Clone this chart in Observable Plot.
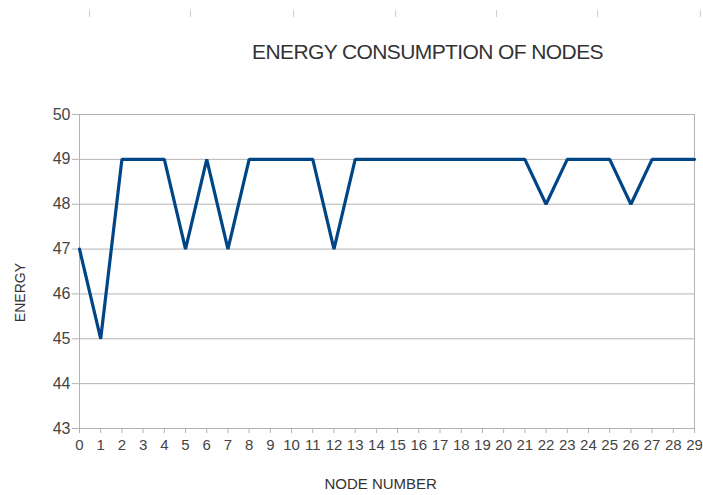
<!DOCTYPE html>
<html>
<head>
<meta charset="utf-8">
<script src="https://cdn.jsdelivr.net/npm/d3@7"></script>
<script src="https://cdn.jsdelivr.net/npm/@observablehq/plot@0.6"></script>
<style>
  html, body { margin: 0; padding: 0; background: #fff; }
  #wrap { position: relative; width: 703px; height: 495px; overflow: hidden; font-family: "Liberation Sans", Arial, sans-serif; }
  #title { position: absolute; left: 0; width: 703px; top: 40px; text-align: center; padding-left: 152px; box-sizing: border-box; font-size: 21px; color: #333; letter-spacing: -0.6px; }
  .rt { position: absolute; top: 10px; width: 1px; height: 7px; background: #d0d0d0; }
  #chart { position: absolute; left: 0; top: 0; }
</style>
</head>
<body>
<div id="wrap">
  <div id="chart"></div>
  <div id="title">ENERGY CONSUMPTION OF NODES</div>
</div>
<script>
const nodes = [0,1,2,3,4,5,6,7,8,9,10,11,12,13,14,15,16,17,18,19,20,21,22,23,24,25,26,27,28,29];
const energy = [47,45,49,49,49,47,49,47,49,49,49,49,47,49,49,49,49,49,49,49,49,49,48,49,49,49,48,49,49,49];
const yTicks = [43,44,45,46,47,48,49,50];
const rulerX = [89,190,293,395,496,597,700];

const data = nodes.map((n, i) => ({node: n, energy: energy[i]}));

const plot = Plot.plot({
  width: 703,
  height: 495,
  marginLeft: 79,
  marginRight: 9,
  marginTop: 114,
  marginBottom: 67,
  style: {fontFamily: "'Liberation Sans', Arial, sans-serif", fontSize: "15px", color: "#444", background: "transparent"},
  x: {domain: [0, 29], ticks: nodes, tickFormat: d => String(d), label: null},
  y: {domain: [43, 50], ticks: yTicks, tickFormat: d => String(d), label: null},
  marks: [
    Plot.ruleY(yTicks, {stroke: "#b3b3b3", strokeWidth: 1, insetLeft: -7}),
    Plot.ruleX([0], {stroke: "#b3b3b3", strokeWidth: 1}),
    Plot.ruleX([29], {stroke: "#b3b3b3", strokeWidth: 1}),
    Plot.axisX({ticks: nodes, tickSize: 5, tickPadding: 6, stroke: "#b3b3b3", fill: "#444", fontSize: 15, label: null, tickFormat: d => String(d)}),
    Plot.axisY({ticks: yTicks, tickSize: 0, tickPadding: 9, fill: "#444", fontSize: 16, label: null, tickFormat: d => String(d)}),
    Plot.line(data, {x: "node", y: "energy", stroke: "#004586", strokeWidth: 3.2, strokeLinejoin: "miter"}),
    Plot.text(["ENERGY"], {x: [-2.78], y: [46.03], rotate: -90, fontSize: 14, fill: "#333", text: d => d, clip: false}),
    Plot.text(["NODE NUMBER"], {x: [14.2], y: [43], dy: 56, fontSize: 15, fill: "#333", letterSpacing: "-0.5px", text: d => d, textAnchor: "middle", clip: false})
  ]
});
document.getElementById("chart").appendChild(plot);
const wrap = document.getElementById("wrap");
rulerX.forEach(x => { const d = document.createElement("div"); d.className = "rt"; d.style.left = x + "px"; wrap.appendChild(d); });
</script>
</body>
</html>
